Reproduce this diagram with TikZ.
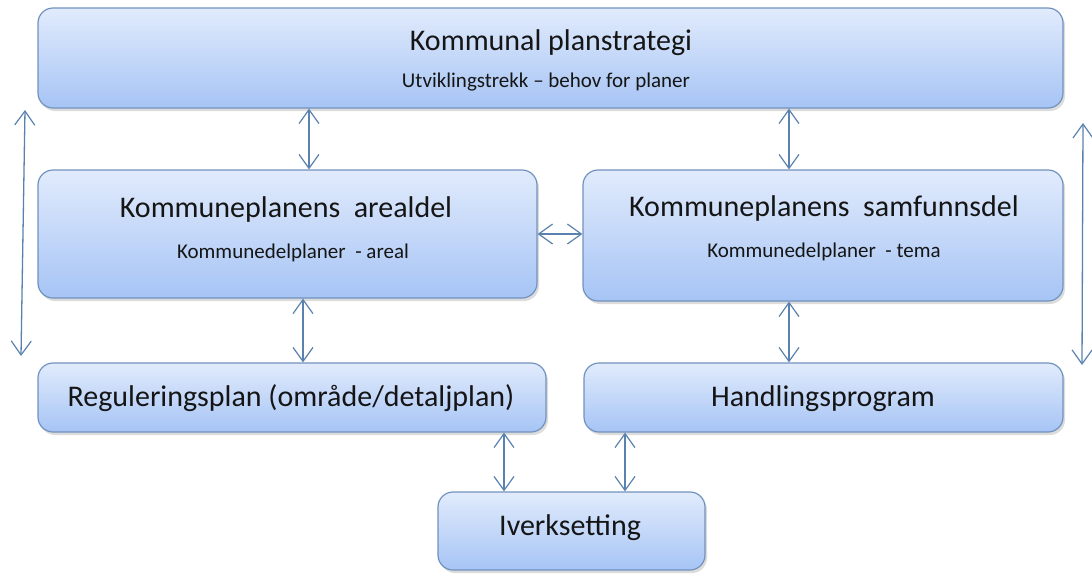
\documentclass[tikz,border=0pt]{standalone}
\usepackage{fontspec}
\setmainfont{Carlito}
\usetikzlibrary{arrows.meta,shadows,calc}
\definecolor{boxtop}{HTML}{E1EBFC}
\definecolor{boxbot}{HTML}{A6C4F5}
\definecolor{boxline}{HTML}{7192BE}
\definecolor{arrcol}{HTML}{5A82AE}
\definecolor{txt}{HTML}{151515}
\tikzset{
  box/.style={rectangle, rounded corners=15pt, draw=boxline, line width=1.2pt,
    top color=boxtop, bottom color=boxbot, inner sep=0pt,
    drop shadow={opacity=0.28, shadow xshift=2pt, shadow yshift=-3pt}},
  big/.style={text=txt, font=\fontsize{30}{34}\selectfont, inner sep=0pt, anchor=base},
  small/.style={text=txt, font=\fontsize{21}{25}\selectfont, inner sep=0pt, anchor=base},
  arr/.style={draw=arrcol, line width=1.3pt,
    {Straight Barb[length=14pt,width=20pt,line width=1.2pt]}-{Straight Barb[length=14pt,width=20pt,line width=1.2pt]}},
}
\begin{document}
\begin{tikzpicture}[x=1pt,y=-1pt]
\useasboundingbox (0,0) rectangle (1092,574);
% boxes
\node[box, minimum width=1025pt, minimum height=100pt] (top) at (550.5,58) {};
\node[box, minimum width=499pt, minimum height=128pt] (lm) at (287.5,234) {};
\node[box, minimum width=480pt, minimum height=131pt] (rm) at (823,235.5) {};
\node[box, minimum width=508pt, minimum height=69pt] (reg) at (292,397.5) {};
\node[box, minimum width=479pt, minimum height=69pt] (hand) at (823.5,397.5) {};
\node[box, minimum width=267pt, minimum height=78pt] (iv) at (571.5,531) {};
% texts
\node[big] (toptitle) at (551,50) {Kommunal planstrategi};
\node[small] (topsub) at (546,87) {Utviklingstrekk – behov for planer};
\node[big] (lmtitle) at (286,217) {Kommuneplanens\ \ arealdel};
\node[small] (lmsub) at (293,258) {Kommunedelplaner\ \ - areal};
\node[big] (rmtitle) at (824,216) {Kommuneplanens\ \ samfunnsdel};
\node[small] (rmsub) at (824,257) {Kommunedelplaner\ \ - tema};
\node[big] (regtext) at (291,406) {Reguleringsplan (område/detaljplan)};
\node[big] (handtext) at (823,406) {Handlingsprogram};
\node[big] (ivtext) at (570,535) {Iverksetting};
% helper coordinates
\coordinate (x1) at (309,0);
\coordinate (x2) at (789,0);
\coordinate (x3) at (303,0);
\coordinate (x4) at (504,0);
\coordinate (x5) at (625,0);
\coordinate (l1) at (25,110);
\coordinate (l2) at (21,356);
\coordinate (r1) at (1083,123);
\coordinate (r2) at (1082,365);
% connectors
\draw[arr] (x1 |- top.south) -- (x1 |- lm.north);
\draw[arr] (x2 |- top.south) -- (x2 |- rm.north);
\draw[arr] (lm.east) -- (lm.east -| rm.west);
\draw[arr] (x3 |- lm.south) -- (x3 |- reg.north);
\draw[arr] (x2 |- rm.south) -- (x2 |- hand.north);
\draw[arr] (x4 |- reg.south) -- (x4 |- iv.north);
\draw[arr] (x5 |- hand.south) -- (x5 |- iv.north);
\draw[arr] (l1) -- (l2);
\draw[arr] (r1) -- (r2);
\end{tikzpicture}
\end{document}
